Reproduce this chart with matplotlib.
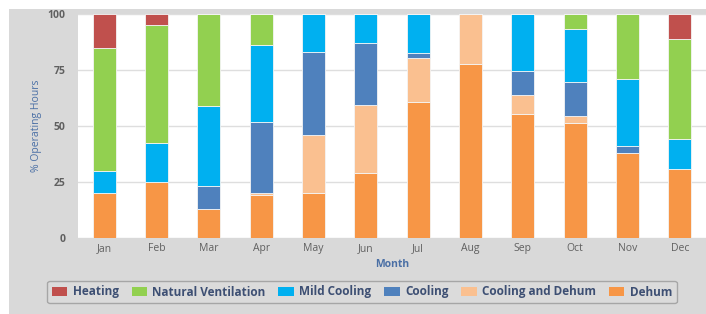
import matplotlib.pyplot as plt
from matplotlib.patches import Rectangle
import numpy as np

months = ['Jan', 'Feb', 'Mar', 'Apr', 'May', 'Jun',
          'Jul', 'Aug', 'Sep', 'Oct', 'Nov', 'Dec']

# stacked bottom -> top
dehum = [20, 25, 13, 19, 20, 29, 60.5, 77.5, 55.5, 51.5, 38, 31]
cooling_dehum = [0, 0, 0, 1, 26, 30.5, 20, 22.5, 8.5, 3, 0, 0]
cooling = [0, 0, 10, 32, 37, 27.5, 2, 0, 10.5, 15, 3, 0]
mild_cooling = [10, 17.5, 36, 34, 17, 13, 17.5, 0, 25.5, 24, 30, 13]
natural_vent = [55, 52.5, 41, 14, 0, 0, 0, 0, 0, 6.5, 29, 45]
heating = [15, 5, 0, 0, 0, 0, 0, 0, 0, 0, 0, 11]

series = [
    ('Heating', heating, '#c0504d'),
    ('Natural Ventilation', natural_vent, '#92d050'),
    ('Mild Cooling', mild_cooling, '#00b0f0'),
    ('Cooling', cooling, '#4f81bd'),
    ('Cooling and Dehum', cooling_dehum, '#fac090'),
    ('Dehum', dehum, '#f79646'),
]

plt.rcParams['font.family'] = ['Open Sans', 'DejaVu Sans']

fig = plt.figure(figsize=(7.06, 3.14), dpi=100)
fig.patch.set_facecolor('white')
# grey panel behind everything
fig.patches.append(Rectangle((9 / 706, 0), 1 - 9 / 706, 1 - 9 / 314,
                             transform=fig.transFigure, facecolor='#d9d9d9',
                             edgecolor='none', zorder=-10))

ax = fig.add_axes([78 / 706, 1 - 238 / 314, 1 - 78 / 706, 224 / 314])
ax.set_facecolor('white')

x = np.arange(len(months))
bottom = np.zeros(len(months))
handles = {}
for name, vals, col in reversed(series):
    vals = np.array(vals, dtype=float)
    b = ax.bar(x, vals, width=0.44, bottom=bottom, color=col,
               edgecolor='#f4f4f4', linewidth=0.6, zorder=3)
    handles[name] = b
    bottom += vals

ax.set_xlim(-0.5, len(months) - 0.5)
ax.set_ylim(0, 100)
ax.set_yticks([0, 25, 50, 75, 100])
ax.set_xticks(x)
ax.set_xticklabels(months)
ax.tick_params(length=0, colors='#606060', labelsize=7.5)
ax.tick_params(axis='y', pad=9)
for lbl in ax.get_yticklabels():
    lbl.set_fontweight('bold')
ax.yaxis.grid(True, color='#dedede', linewidth=1, zorder=0)
for s in ax.spines.values():
    s.set_visible(False)

ax.set_xlabel('Month', color='#4a6fa5', fontsize=7.5, fontweight='bold', labelpad=4)
ax.set_ylabel('% Operating Hours', color='#4a6fa5', fontsize=7.5, labelpad=4)

order = [s[0] for s in series]
leg = fig.legend([handles[n] for n in order], order, loc='center',
                 bbox_to_anchor=(362 / 706, 1 - 292 / 314), ncol=6,
                 fontsize=8.5, frameon=True, handlelength=1.3, handleheight=0.9,
                 handletextpad=0.45, columnspacing=1.1, borderpad=0.4,
                 fancybox=True)
leg.get_frame().set_facecolor('#dcdcdc')
leg.get_frame().set_edgecolor('#9a9a9a')
leg.get_frame().set_linewidth(1.0)
for t in leg.get_texts():
    t.set_color('#3d4f73')
    t.set_fontweight('bold')
for h in leg.legend_handles:
    h.set_edgecolor('none')

fig.savefig('out.png', dpi=100, facecolor=fig.get_facecolor())
